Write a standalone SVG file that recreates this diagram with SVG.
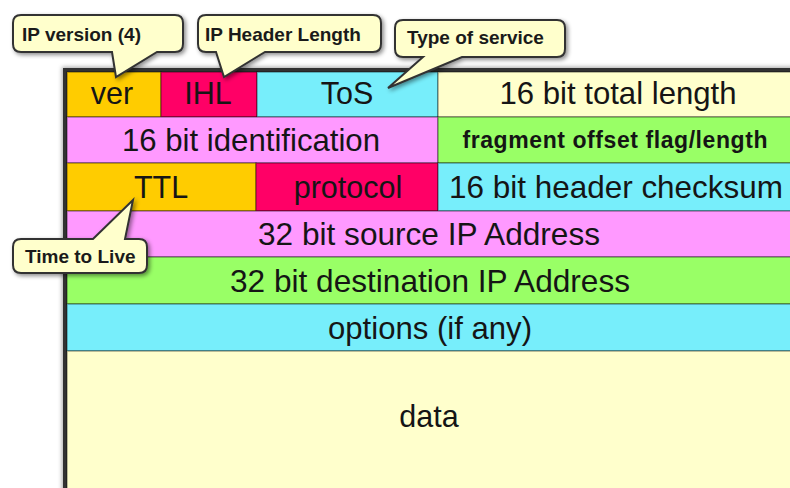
<svg xmlns="http://www.w3.org/2000/svg" width="790" height="488" viewBox="0 0 790 488">
<defs>
<filter id="sh" x="-20%" y="-20%" width="140%" height="160%">
<feDropShadow dx="2" dy="2" stdDeviation="2" flood-color="#000" flood-opacity="0.45"/>
</filter>
<filter id="tsh" x="-5%" y="-5%" width="110%" height="110%">
<feDropShadow dx="-1" dy="-1" stdDeviation="2" flood-color="#000" flood-opacity="0.35"/>
</filter>
</defs>
<style>
.c{stroke:#000;stroke-opacity:0.35;stroke-width:1.5}
.t{font-family:"Liberation Sans",Arial,sans-serif;font-size:30.5px;fill:#151515;text-anchor:middle}
.f{font-family:"Liberation Sans",Arial,sans-serif;font-size:23px;font-weight:bold;fill:#151515;text-anchor:middle}
.co{fill:#FFFFCC;stroke:#333;stroke-width:2;filter:url(#sh)}
.ct{font-family:"Liberation Sans",Arial,sans-serif;font-size:19px;font-weight:bold;fill:#1a1a1a}
</style>
<rect width="790" height="488" fill="#fff"/>
<g id="table">
<rect x="65" y="70" width="730" height="425" fill="#FFFFCC" stroke="#333" stroke-width="4" filter="url(#tsh)"/>
</g>
<g id="ver"><rect class="c" x="67" y="72" width="94" height="45" fill="#FFCC00"/><text class="t" x="112" y="104">ver</text></g>
<g id="ihl"><rect class="c" x="161" y="72" width="96" height="45" fill="#FF0066"/><text class="t" x="208" y="104">IHL</text></g>
<g id="tos"><rect class="c" x="257" y="72" width="181" height="45" fill="#77EEFB"/><text class="t" x="347" y="104">ToS</text></g>
<g id="total-length"><rect class="c" x="438" y="72" width="354" height="45" fill="#FFFFCC"/><text class="t" x="618" y="104" textLength="237" lengthAdjust="spacingAndGlyphs">16 bit total length</text></g>
<g id="identification"><rect class="c" x="67" y="117" width="371" height="46" fill="#FF99FF"/><text class="t" x="251" y="151" textLength="258" lengthAdjust="spacingAndGlyphs">16 bit identification</text></g>
<g id="fragment"><rect class="c" x="438" y="117" width="354" height="46" fill="#99FF66"/><text class="f" x="615" y="148" textLength="305" lengthAdjust="spacing">fragment offset flag/length</text></g>
<g id="ttl"><rect class="c" x="67" y="163" width="189" height="48" fill="#FFCC00"/><text class="t" x="161" y="198">TTL</text></g>
<g id="protocol"><rect class="c" x="256" y="163" width="182" height="48" fill="#FF0066"/><text class="t" x="348" y="198">protocol</text></g>
<g id="checksum"><rect class="c" x="438" y="163" width="354" height="48" fill="#77EEFB"/><text class="t" x="616" y="198" textLength="334" lengthAdjust="spacingAndGlyphs">16 bit header checksum</text></g>
<g id="source"><rect class="c" x="67" y="211" width="725" height="46" fill="#FF99FF"/><text class="t" x="429" y="245" textLength="342" lengthAdjust="spacingAndGlyphs">32 bit source IP Address</text></g>
<g id="destination"><rect class="c" x="67" y="257" width="725" height="47" fill="#99FF66"/><text class="t" x="430" y="292" textLength="400" lengthAdjust="spacingAndGlyphs">32 bit destination IP Address</text></g>
<g id="options"><rect class="c" x="67" y="304" width="725" height="47" fill="#77EEFB"/><text class="t" x="430" y="339" textLength="204" lengthAdjust="spacingAndGlyphs">options (if any)</text></g>
<g id="data"><rect class="c" x="67" y="351" width="725" height="140" fill="#FFFFCC"/><text class="t" x="429" y="427">data</text></g>
<g id="connectors"></g>
<g id="callout-version"><path class="co" d="M21,15 H175 Q183,15 183,23 V44 Q183,52 175,52 H157 L116,77 L112,52 H21 Q13,52 13,44 V23 Q13,15 21,15 Z"/><text class="ct" x="22" y="41">IP version (4)</text></g>
<g id="callout-ihl"><path class="co" d="M206,15 H373 Q381,15 381,23 V44 Q381,52 373,52 H265 L224,77 L216,52 H206 Q198,52 198,44 V23 Q198,15 206,15 Z"/><text class="ct" x="205" y="41">IP Header Length</text></g>
<g id="callout-tos"><path class="co" d="M403,20 H557 Q565,20 565,28 V49 Q565,57 557,57 H462 L388,88 L423,57 H403 Q395,57 395,49 V28 Q395,20 403,20 Z"/><text class="ct" x="407" y="44">Type of service</text></g>
<g id="callout-ttl"><path class="co" d="M21,239 H93 L133,200 L125,239 H139 Q147,239 147,247 V265 Q147,273 139,273 H21 Q13,273 13,265 V247 Q13,239 21,239 Z"/><text class="ct" x="25" y="263">Time to Live</text></g>
</svg>
